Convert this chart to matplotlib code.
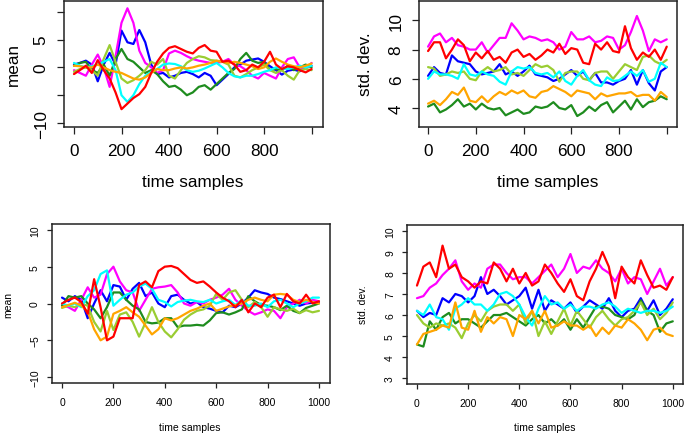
import numpy as np
import matplotlib
matplotlib.use('Agg')
import matplotlib.pyplot as plt

plt.rcParams['font.family'] = ['Liberation Sans', 'DejaVu Sans']

# sample positions where the curves were read (every 25 samples)
samples = np.arange(0, 1001, 25)

# ---- top left: mean ----
tl_blue = [0.5, 0.8, 1.2, 0.5, -2.5, 0.5, 2.6, 0.5, 6.6, 4.5, 4.2, 6.7, 4.5, 0.5, -1.2, -1.0, -1.8, -1.5, -1.0, -0.8, -1.2,
           -1.8, -1.0, -1.5, -3.2, -2.2, -1.2, 0.0, 0.5, 1.2, 1.4, 1.6, 1.0, 0.2, -0.5, -1.3, -0.6, -0.4, -0.7, 0.0, 0.3]
tl_magenta = [-0.5, -1.0, -1.5, 0.5, 2.3, 0.0, -3.5, 2.0, 8.0, 10.6, 8.0, 3.0, 0.8, 0.0, -1.0, -0.5, 2.5, 3.0, 2.6, 2.0, 1.5,
              1.2, 1.0, 0.8, 0.8, 1.0, 1.5, 0.5, 0.2, -0.5, -1.5, -2.0, -1.0, -1.5, -2.0, 0.0, 1.5, 1.8, 0.0, -0.3, 0.8]
tl_green = [0.3, 0.8, 1.0, -0.5, -1.0, 0.5, -1.5, 1.5, 3.3, 1.5, 1.0, 0.0, -1.0, -0.5, -1.2, -2.5, -3.5, -3.3, -4.0, -5.0, -4.5,
            -3.5, -3.2, -4.0, -3.0, -2.0, -1.0, -0.3, 1.5, 2.6, 1.2, 0.8, 1.0, -0.5, -0.3, -0.5, 0.3, -0.5, 0.0, 0.5, 0.0]
tl_yellowgreen = [-0.8, -0.3, 0.0, -0.5, -1.5, 1.5, 4.0, 1.0, -2.0, -2.8, -2.3, -1.5, -0.5, 1.0, 0.5, 1.5, -1.5, -2.0, -0.5, 0.8, 1.5,
                  2.0, 1.8, 1.3, 1.2, 1.0, 0.5, -1.5, -1.8, -1.2, -0.5, 0.0, 0.5, -0.5, -1.0, -0.5, -1.5, -2.2, -0.5, -0.3, -0.5]
tl_cyan = [0.8, 0.3, 0.0, 0.2, 0.5, 1.0, 1.5, -0.5, -5.0, -6.2, -5.0, -3.0, -1.5, -0.8, -0.3, 0.5, 0.7, 0.6, 0.2, -0.5, -0.8,
           -0.6, -0.2, 0.3, 0.8, 0.0, -1.0, -1.6, -1.8, -1.5, -1.5, -1.2, -0.8, -0.5, 0.0, -0.2, -0.3, 0.0, 0.3, 0.0, 0.3]
tl_orange = [0.3, 0.2, 0.0, 0.0, 0.5, 0.0, -0.5, -0.8, -1.0, -1.5, -2.0, -2.2, -1.8, -1.0, -0.3, -0.5, -0.5, -0.2, 0.0, -0.2, 0.0,
             0.3, 0.5, 0.8, 1.2, 1.0, 0.8, 1.0, 0.8, 0.5, 0.2, -0.3, 0.0, 1.0, 1.6, 1.0, 0.5, 0.2, 0.0, 0.3, 0.7]
tl_red = [-1.2, -0.5, 0.3, -1.0, 1.3, -0.5, -2.0, -4.5, -7.5, -6.5, -5.5, -4.8, -3.5, -1.0, 1.0, 2.5, 3.5, 3.8, 3.3, 2.8, 2.5,
          3.5, 4.0, 3.0, 2.8, 1.0, 1.2, 0.5, -0.8, -0.5, 0.5, 0.0, 1.0, 2.8, 0.5, -0.3, 0.2, 0.0, -0.5, -0.9, -0.3]

# ---- top right: std. dev. ----
tr_blue = [6.2, 6.8, 6.4, 6.3, 7.6, 7.2, 7.1, 7.0, 6.5, 6.3, 6.4, 6.5, 7.0, 6.3, 6.5, 6.2, 6.5, 6.9, 6.3, 6.2, 6.1,
           5.85, 6.0, 6.3, 6.6, 6.2, 6.5, 5.9, 6.4, 5.75, 5.75, 5.6, 5.85, 6.0, 6.6, 5.6, 6.6, 5.7, 5.2, 6.5, 6.8]
tr_magenta = [8.2, 8.9, 9.1, 8.5, 8.8, 8.3, 8.2, 8.0, 8.0, 8.5, 7.8, 8.3, 8.8, 8.8, 9.8, 9.3, 8.7, 8.9, 8.8, 8.6, 8.7,
              8.5, 8.0, 8.2, 9.2, 8.7, 8.7, 8.9, 8.5, 8.6, 8.9, 8.8, 8.0, 8.3, 9.2, 10.3, 9.3, 7.9, 8.7, 8.5, 8.7]
tr_green = [4.1, 4.3, 3.7, 3.9, 4.2, 4.6, 4.1, 4.3, 3.9, 4.3, 4.0, 3.9, 4.0, 3.5, 3.7, 3.9, 3.6, 3.7, 4.1, 4.0, 4.1,
            4.4, 4.0, 3.9, 4.2, 3.45, 3.7, 4.1, 3.8, 4.2, 4.4, 3.7, 4.1, 4.5, 3.9, 4.6, 4.06, 4.4, 4.5, 4.8, 4.6]
tr_yellowgreen = [6.8, 6.7, 6.2, 6.3, 6.5, 6.4, 6.5, 6.0, 5.9, 6.5, 6.8, 6.5, 6.6, 6.8, 6.3, 6.4, 6.2, 6.6, 7.0, 6.8, 6.9,
                  6.6, 5.8, 6.4, 6.5, 6.5, 6.0, 5.9, 6.4, 6.5, 6.5, 6.0, 6.5, 7.0, 6.8, 6.6, 7.5, 7.6, 7.2, 7.0, 7.3]
tr_cyan = [6.0, 6.5, 6.3, 6.3, 6.2, 6.0, 7.0, 6.3, 6.2, 6.5, 6.3, 6.2, 5.8, 5.6, 6.5, 6.8, 6.7, 6.8, 6.4, 6.3, 6.4,
           6.1, 6.5, 5.85, 5.6, 6.2, 6.6, 5.9, 5.6, 5.5, 6.1, 5.85, 5.9, 6.2, 6.5, 6.2, 6.6, 5.8, 6.0, 7.1, 6.8]
tr_orange = [4.3, 4.5, 4.2, 4.6, 5.1, 4.9, 5.4, 4.5, 4.4, 4.8, 4.4, 4.8, 5.1, 4.9, 5.2, 5.0, 5.2, 4.8, 4.7, 5.1, 5.2,
             5.5, 5.3, 5.1, 4.8, 5.2, 5.1, 5.0, 4.6, 5.0, 4.8, 4.9, 5.0, 5.0, 5.1, 4.8, 4.9, 4.9, 4.5, 5.1, 4.75]
tr_red = [7.9, 8.5, 8.5, 7.4, 8.0, 8.7, 8.3, 7.2, 7.8, 7.4, 7.9, 7.3, 7.5, 7.1, 7.8, 8.0, 7.5, 7.7, 7.3, 7.6, 8.0,
          7.8, 8.4, 7.7, 8.1, 8.0, 7.1, 7.0, 8.4, 8.0, 8.5, 7.9, 7.8, 9.6, 8.1, 7.3, 7.8, 7.5, 8.0, 7.3, 8.2]

# ---- bottom left: mean ----
bl_blue = [0.8, 0.3, 1.0, 0.5, -2.0, 0.0, 1.8, 0.3, 2.5, 2.3, 0.5, 2.0, 2.8, 1.0, 1.5, 0.0, -0.5, 1.0, 1.2, 0.5, 0.0,
           0.2, -0.5, -0.7, -1.0, -1.2, -0.3, -0.5, 0.0, 0.8, 1.8, 1.5, 1.3, 0.8, 0.6, 0.3, 0.0, -0.3, 0.0, 0.1, 0.2]
bl_magenta = [-0.2, -0.5, -1.0, 0.5, 2.2, 0.8, 1.2, 4.0, 5.0, 3.0, 1.8, 1.5, -1.0, 0.5, 2.0, 2.2, 2.3, 2.5, 1.5, 0.0, -0.3,
              0.2, 0.0, 0.5, 0.8, 1.2, 2.0, 0.5, -0.3, -1.0, -1.5, -1.2, -0.8, -1.0, -2.0, -0.5, 0.0, 0.5, 0.0, 0.5, 0.3]
bl_green = [-0.3, 1.0, 0.8, 1.0, 0.0, -0.8, -2.0, -0.5, 1.5, 1.5, 0.5, -0.3, -0.8, -2.5, -2.7, -2.6, -2.0, -2.0, -3.2, -3.0, -3.0,
            -2.9, -3.0, -2.3, -1.3, -1.2, -1.5, -1.2, -0.8, 1.0, 0.3, -0.2, -0.3, -0.5, -0.9, -0.3, -1.0, -1.3, -0.6, -0.3, 0.0]
bl_yellowgreen = [-0.6, -0.3, -0.5, 0.0, -0.3, -2.5, -3.8, -1.0, -3.6, -1.5, -1.2, -2.5, -4.5, -2.6, -0.5, -2.5, -3.8, -4.6, -3.5, -2.2, -1.5,
                  -1.0, -0.8, -0.3, 1.3, 0.5, 1.5, 1.8, 0.5, -0.5, 0.2, -0.5, -1.8, -0.5, -0.8, -1.0, -0.7, -1.3, -0.9, -1.2, -1.0]
bl_cyan = [0.0, -0.3, 0.0, -0.5, 1.0, 1.8, 4.0, 4.5, -0.3, 0.5, 1.2, 1.5, 2.3, 2.7, 2.0, 0.5, 0.2, -0.4, 0.2, 0.4, 0.5,
           0.3, 0.2, 0.5, 0.0, 0.3, 0.5, -0.2, 0.5, -0.3, -0.3, 0.0, -0.5, 0.3, 0.5, 0.0, -0.5, 0.0, 0.3, 0.8, 0.8]
bl_orange = [-0.5, -0.2, 0.1, -0.3, -1.1, -3.5, -5.0, -4.5, -1.4, -1.0, -0.5, -1.2, -1.8, -3.0, -4.2, -3.5, -2.0, -2.3, -2.0, -1.5, -1.0,
             -0.7, -0.3, 0.0, -1.0, -0.7, -0.4, -0.2, 0.0, 0.5, 0.8, 0.5, 0.3, 1.2, 1.3, 1.2, 0.5, 0.2, 0.5, 0.2, 0.0]
bl_red = [0.0, 0.5, 0.8, 0.2, -1.4, 3.3, -0.5, -5.0, -4.5, -2.0, -2.0, -2.0, 2.5, 3.0, 2.2, 4.4, 5.0, 5.1, 4.8, 4.0, 3.2,
          2.8, 3.0, 2.3, 1.5, 0.8, 0.3, -0.5, 0.5, -1.2, 0.0, -0.5, 0.8, 1.2, -0.5, 1.3, 0.3, 0.0, 1.2, 0.0, 0.3]

# ---- bottom right: std. dev. ----
br_blue = [6.2, 5.9, 6.1, 6.0, 6.8, 6.6, 7.0, 6.9, 6.6, 6.9, 7.8, 7.0, 7.2, 6.9, 6.5, 6.7, 6.9, 7.3, 6.3, 7.2, 6.2,
           6.7, 6.5, 6.3, 6.6, 6.1, 6.4, 6.7, 6.5, 6.3, 6.8, 6.2, 5.9, 6.2, 6.3, 6.8, 6.2, 6.7, 6.0, 6.3, 6.75]
br_magenta = [6.8, 6.9, 7.3, 7.5, 7.9, 8.2, 8.6, 7.6, 7.2, 7.5, 7.3, 8.2, 8.4, 8.4, 8.0, 7.7, 7.8, 7.8, 7.5, 7.8, 8.1,
              8.4, 7.8, 8.2, 8.9, 8.0, 8.3, 8.2, 8.6, 8.2, 8.0, 7.6, 8.2, 7.5, 7.8, 7.7, 7.0, 7.6, 8.2, 7.4, 7.8]
br_green = [4.6, 4.5, 5.7, 5.3, 5.9, 6.1, 5.6, 5.8, 5.8, 5.6, 5.4, 5.7, 6.0, 6.0, 6.1, 5.9, 5.7, 5.5, 5.8, 6.0, 5.6,
            5.8, 5.5, 5.8, 5.3, 5.8, 5.4, 5.9, 6.4, 6.4, 6.3, 6.0, 5.9, 5.8, 6.0, 6.7, 6.2, 6.0, 5.2, 5.6, 5.7]
br_yellowgreen = [6.0, 5.6, 5.4, 5.6, 5.5, 5.6, 5.4, 4.9, 5.6, 6.0, 5.7, 6.2, 6.4, 6.5, 6.5, 6.2, 6.5, 5.6, 6.2, 5.0, 5.7,
                  5.1, 5.7, 6.3, 5.5, 6.2, 5.8, 5.4, 5.9, 6.2, 5.8, 5.5, 5.8, 5.9, 6.2, 6.6, 6.0, 6.3, 5.8, 6.1, 6.6]
br_cyan = [6.2, 6.0, 6.5, 5.9, 5.8, 5.3, 6.3, 6.5, 6.8, 6.5, 6.5, 6.2, 6.5, 7.0, 7.1, 6.9, 6.5, 5.9, 5.5, 6.3, 6.9,
           6.5, 6.6, 6.3, 6.5, 6.2, 6.4, 6.4, 6.3, 6.5, 6.6, 6.4, 6.1, 6.3, 6.2, 6.1, 6.2, 6.2, 6.1, 6.2, 6.4]
br_orange = [4.6, 5.1, 5.2, 5.3, 5.5, 5.4, 6.6, 5.4, 5.3, 6.2, 5.2, 5.9, 5.6, 5.9, 5.8, 5.0, 6.0, 5.8, 6.2, 5.6, 6.2,
             5.4, 5.5, 5.7, 5.5, 5.5, 5.3, 5.5, 5.0, 5.4, 5.1, 5.5, 5.4, 5.8, 5.6, 5.3, 4.8, 5.3, 5.4, 5.1, 5.0]
br_red = [7.4, 8.3, 8.5, 7.8, 9.3, 8.2, 8.4, 7.8, 7.6, 7.3, 7.6, 7.5, 8.5, 8.2, 7.6, 8.2, 7.5, 8.0, 7.4, 7.6, 8.4,
          8.0, 7.5, 7.1, 7.7, 6.9, 6.7, 7.6, 8.2, 9.0, 8.3, 6.8, 8.3, 7.8, 7.5, 8.6, 7.9, 7.3, 7.4, 7.2, 7.8]

BLUE, MAGENTA, GREEN = '#0000FF', '#FF00FF', '#1E8C1E'
YELLOWGREEN, CYAN, ORANGE, RED = '#9ACD32', '#00FFFF', '#FFA500', '#FF0000'


def draw_panel(ax, curves, xlim, ylim, yticks, ylabels, xlabels, fs, ticklen, xpad, ypad):
    for values, colour in curves:
        ax.plot(samples, values, color=colour, lw=1.6,
                solid_joinstyle='round', solid_capstyle='round')
    ax.set_xlim(*xlim)
    ax.set_ylim(*ylim)
    ax.set_xticks([0, 200, 400, 600, 800, 1000])
    ax.set_xticklabels(xlabels)
    ax.set_yticks(yticks)
    ax.set_yticklabels(ylabels, rotation=90, va='center')
    ax.tick_params(length=ticklen, width=0.9, labelsize=fs, color='#222222')
    ax.tick_params(axis='x', pad=xpad)
    ax.tick_params(axis='y', pad=ypad)
    for sp in ax.spines.values():
        sp.set_linewidth(1.1)
        sp.set_color('#222222')


fig = plt.figure(figsize=(6.85, 4.35), dpi=100)

W, H = 685.0, 435.0


def add_axes(left, right, top, bottom):
    return fig.add_axes([left / W, 1 - bottom / H, (right - left) / W, (bottom - top) / H])


ax1 = add_axes(64, 323, 1.5, 128)
ax2 = add_axes(419, 677, 1.5, 128)
ax3 = add_axes(52, 330, 225, 384)
ax4 = add_axes(407, 683, 226, 385)

draw_panel(ax1, [(tl_blue, BLUE), (tl_magenta, MAGENTA), (tl_green, GREEN), (tl_yellowgreen, YELLOWGREEN),
                 (tl_cyan, CYAN), (tl_orange, ORANGE), (tl_red, RED)],
           (-42, 1048), (-10.7, 12.0), [-10, -5, 0, 5, 10], ['\u221210', '', '0', '5', ''],
           ['0', '200', '400', '600', '800', ''], 12.3, 5, 6.5, 6)
draw_panel(ax2, [(tr_blue, BLUE), (tr_magenta, MAGENTA), (tr_green, GREEN), (tr_yellowgreen, YELLOWGREEN),
                 (tr_cyan, CYAN), (tr_orange, ORANGE), (tr_red, RED)],
           (-38, 1043), (2.7, 11.36), [4, 6, 8, 10], ['4', '6', '8', '10'],
           ['0', '200', '400', '600', '800', ''], 12.3, 5, 6.5, 6)
draw_panel(ax3, [(bl_blue, BLUE), (bl_magenta, MAGENTA), (bl_green, GREEN), (bl_yellowgreen, YELLOWGREEN),
                 (bl_cyan, CYAN), (bl_orange, ORANGE), (bl_red, RED)],
           (-39, 1043), (-10.8, 10.8), [-10, -5, 0, 5, 10], ['\u221210', '\u22125', '0', '5', '10'],
           ['0', '200', '400', '600', '800', '1000'], 7.5, 3.6, 6.5, 5)
draw_panel(ax4, [(br_blue, BLUE), (br_magenta, MAGENTA), (br_green, GREEN), (br_yellowgreen, YELLOWGREEN),
                 (br_cyan, CYAN), (br_orange, ORANGE), (br_red, RED)],
           (-39, 1040), (2.72, 10.28), [3, 4, 5, 6, 7, 8, 9, 10], ['3', '4', '5', '6', '7', '8', '9', '10'],
           ['0', '200', '400', '600', '800', '1000'], 7.5, 3.6, 6.5, 5)

# axis titles
fig.text(193 / W, 1 - 182.5 / H, 'time samples', fontsize=12.3, ha='center', va='center')
fig.text(548 / W, 1 - 182.5 / H, 'time samples', fontsize=12.3, ha='center', va='center')
fig.text(13 / W, 1 - 65 / H, 'mean', fontsize=12.3, ha='center', va='center', rotation=90)
fig.text(365 / W, 1 - 64 / H, 'std. dev.', fontsize=12.3, ha='center', va='center', rotation=90)
fig.text(190 / W, 1 - 428 / H, 'time samples', fontsize=7.5, ha='center', va='center')
fig.text(545 / W, 1 - 428 / H, 'time samples', fontsize=7.5, ha='center', va='center')
fig.text(8 / W, 1 - 305 / H, 'mean', fontsize=7.5, ha='center', va='center', rotation=90)
fig.text(363 / W, 1 - 305 / H, 'std. dev.', fontsize=7.5, ha='center', va='center', rotation=90)

fig.savefig('out.png', dpi=100)
